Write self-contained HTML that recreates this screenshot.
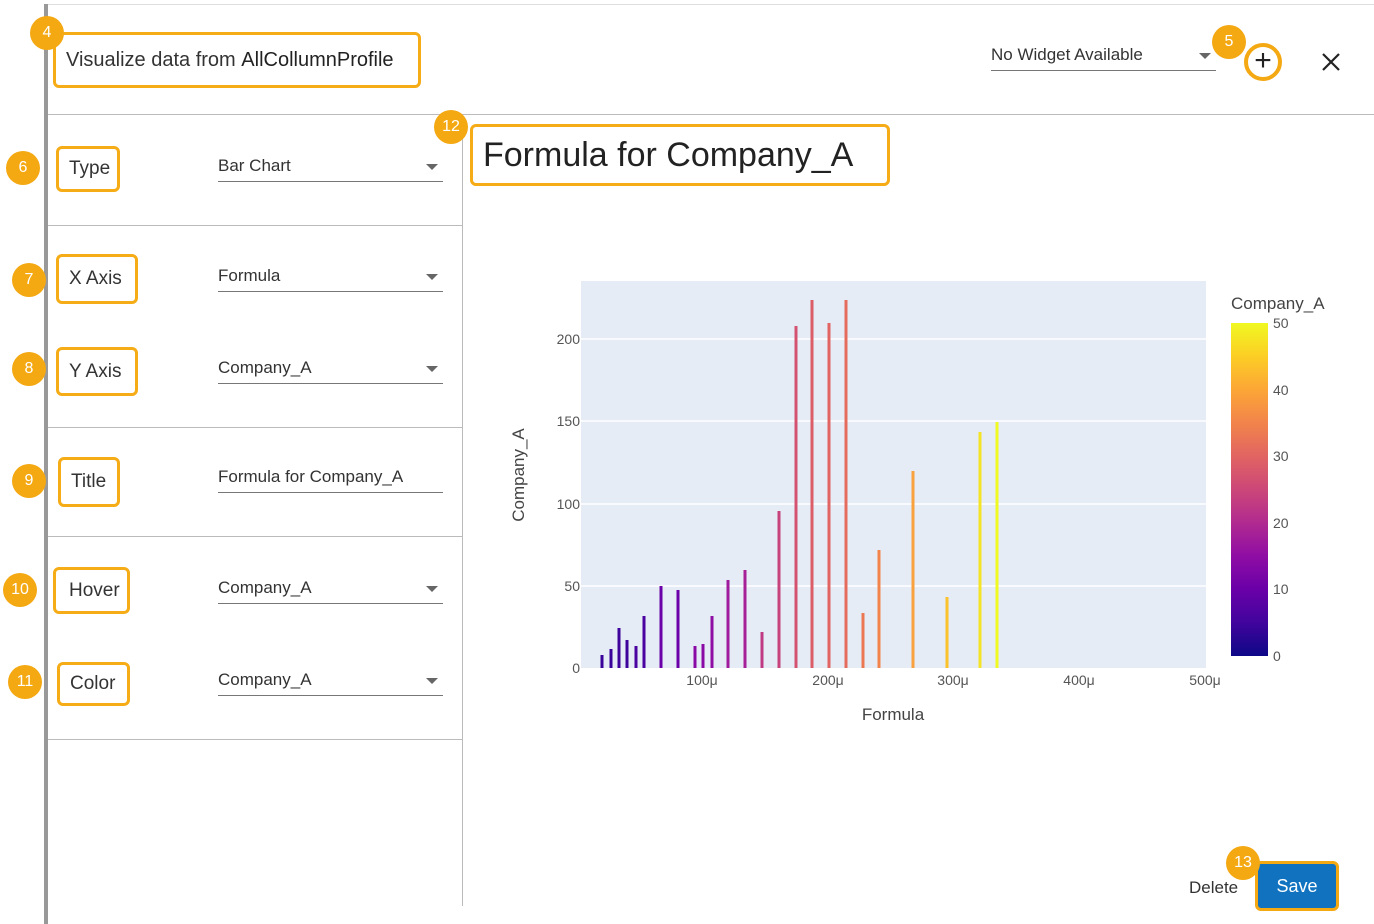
<!DOCTYPE html><html><head><style>
body{margin:0;width:1374px;height:924px;position:relative;background:#fff;font-family:"Liberation Sans",sans-serif;overflow:hidden;color:#333}
.a{position:absolute}
.box{position:absolute;border:3px solid #f5ac17;border-radius:6px;box-sizing:border-box;display:flex;align-items:center;padding-left:10px;font-size:19px;color:#333}
.bd{position:absolute;width:34px;height:34px;border-radius:50%;background:#f4a812;color:#fff;font-size:16px;display:flex;align-items:center;justify-content:center}
.dd{position:absolute;left:218px;width:225px;border-bottom:1px solid #777;font-size:17px;color:#333;height:25px}
.ar{position:absolute;right:5px;top:8px;width:0;height:0;border-left:6px solid transparent;border-right:6px solid transparent;border-top:6px solid #666}
.hl{position:absolute;height:1px;background:#bbb}
</style></head><body>
<div class="a" style="left:44px;top:4px;width:4px;height:920px;background:#999"></div>
<div class="hl" style="left:48px;top:4px;width:1326px;background:#ddd"></div>
<div class="hl" style="left:48px;top:114px;width:1326px"></div>
<div class="a" style="left:462px;top:114px;width:1px;height:792px;background:#bbb"></div>
<div class="hl" style="left:48px;top:225px;width:414px"></div>
<div class="hl" style="left:48px;top:427px;width:414px"></div>
<div class="hl" style="left:48px;top:536px;width:414px"></div>
<div class="hl" style="left:48px;top:739px;width:414px"></div>

<div class="box" style="left:53px;top:32px;width:368px;height:56px;font-size:20px">Visualize data from&nbsp;<span style="color:#222">AllCollumnProfile</span></div>
<div class="box" style="left:56px;top:146px;width:64px;height:46px">Type</div>
<div class="box" style="left:56px;top:254px;width:82px;height:50px">X Axis</div>
<div class="box" style="left:56px;top:347px;width:82px;height:49px">Y Axis</div>
<div class="box" style="left:58px;top:457px;width:62px;height:50px">Title</div>
<div class="box" style="left:53px;top:567px;width:77px;height:47px;padding-left:13px">Hover</div>
<div class="box" style="left:57px;top:662px;width:73px;height:44px">Color</div>
<div class="box" style="left:470px;top:124px;width:420px;height:62px;font-size:34px;color:#222">Formula for Company_A</div>

<div class="dd" style="top:156px">Bar Chart<div class="ar"></div></div>
<div class="dd" style="top:266px">Formula<div class="ar"></div></div>
<div class="dd" style="top:358px">Company_A<div class="ar"></div></div>
<div class="dd" style="top:467px">Formula for Company_A</div>
<div class="dd" style="top:578px">Company_A<div class="ar"></div></div>
<div class="dd" style="top:670px">Company_A<div class="ar"></div></div>
<div class="dd" style="left:991px;top:45px;width:225px">No Widget Available<div class="ar"></div></div>

<div class="a" style="left:1244px;top:43px;width:30px;height:30px;border:4px solid #f4a812;border-radius:50%;font-size:30px;line-height:28px;text-align:center;color:#222">+</div>
<svg class="a" style="left:1322px;top:53px" width="18" height="18"><path d="M1 1L17 17M17 1L1 17" stroke="#222" stroke-width="2.2"/></svg>

<div class="bd" style="left:30px;top:16px">4</div>
<div class="bd" style="left:6px;top:151px">6</div>
<div class="bd" style="left:12px;top:263px">7</div>
<div class="bd" style="left:12px;top:352px">8</div>
<div class="bd" style="left:12px;top:464px">9</div>
<div class="bd" style="left:3px;top:573px">10</div>
<div class="bd" style="left:8px;top:665px">11</div>
<div class="bd" style="left:434px;top:110px">12</div>
<div class="bd" style="left:1212px;top:25px">5</div>

<div class="a" style="left:1189px;top:878px;font-size:17px;color:#333">Delete</div>
<div class="a" style="left:1255px;top:861px;width:84px;height:50px;box-sizing:border-box;border:3px solid #f4a812;border-radius:6px;background:#1173c0;color:#fff;font-size:18px;display:flex;align-items:center;justify-content:center">Save</div>
<div class="bd" style="left:1226px;top:846px">13</div>

<svg class="a" style="left:0;top:0" width="1374" height="924">
<rect x="581" y="281" width="625" height="387" fill="#e5ecf6"/>
<g stroke="#fff" stroke-width="1.5"><line x1="581" x2="1206" y1="586" y2="586"/><line x1="581" x2="1206" y1="504" y2="504"/><line x1="581" x2="1206" y1="421" y2="421"/><line x1="581" x2="1206" y1="339" y2="339"/></g>
<g stroke-width="3">
<line x1="602" x2="602" y1="668" y2="655" stroke="#3a049a"/>
<line x1="611" x2="611" y1="668" y2="649" stroke="#3a049a"/>
<line x1="619" x2="619" y1="668" y2="628" stroke="#3f049c"/>
<line x1="627" x2="627" y1="668" y2="640" stroke="#3f049c"/>
<line x1="636" x2="636" y1="668" y2="646" stroke="#4a02a0"/>
<line x1="644" x2="644" y1="668" y2="616" stroke="#4a02a0"/>
<line x1="661" x2="661" y1="668" y2="586" stroke="#6a00a8"/>
<line x1="678" x2="678" y1="668" y2="590" stroke="#6a00a8"/>
<line x1="695" x2="695" y1="668" y2="646" stroke="#8a0aa5"/>
<line x1="703" x2="703" y1="668" y2="644" stroke="#8a0aa5"/>
<line x1="712" x2="712" y1="668" y2="616" stroke="#8f0da4"/>
<line x1="728" x2="728" y1="668" y2="580" stroke="#a01c9c"/>
<line x1="745" x2="745" y1="668" y2="570" stroke="#a62098"/>
<line x1="762" x2="762" y1="668" y2="632" stroke="#c03a83"/>
<line x1="779" x2="779" y1="668" y2="511" stroke="#c8437b"/>
<line x1="796" x2="796" y1="668" y2="326" stroke="#d45270"/>
<line x1="812" x2="812" y1="668" y2="300" stroke="#dc5c68"/>
<line x1="829" x2="829" y1="668" y2="323" stroke="#e16462"/>
<line x1="846" x2="846" y1="668" y2="300" stroke="#e56b5d"/>
<line x1="863" x2="863" y1="668" y2="613" stroke="#ec7853"/>
<line x1="879" x2="879" y1="668" y2="550" stroke="#f2844b"/>
<line x1="913" x2="913" y1="668" y2="471" stroke="#f9a03f"/>
<line x1="947" x2="947" y1="668" y2="597" stroke="#fcc22b"/>
<line x1="980" x2="980" y1="668" y2="432" stroke="#f5e426"/>
<line x1="997" x2="997" y1="668" y2="422" stroke="#f0f921"/>
</g>
<g font-family="Liberation Sans" font-size="14" fill="#555" text-anchor="end">
<text x="580" y="673">0</text><text x="580" y="591">50</text><text x="580" y="509">100</text><text x="580" y="426">150</text><text x="580" y="344">200</text></g>
<g font-family="Liberation Sans" font-size="14" fill="#555" text-anchor="middle">
<text x="702" y="685">100μ</text><text x="828" y="685">200μ</text><text x="953" y="685">300μ</text><text x="1079" y="685">400μ</text><text x="1205" y="685">500μ</text></g>
<text x="893" y="720" font-family="Liberation Sans" font-size="17" fill="#444" text-anchor="middle">Formula</text>
<text x="524" y="475" font-family="Liberation Sans" font-size="17" fill="#444" text-anchor="middle" transform="rotate(-90 524 475)">Company_A</text>
<defs><linearGradient id="pl" x1="0" y1="1" x2="0" y2="0">
<stop offset="0" stop-color="#0d0887"/><stop offset=".1" stop-color="#41049d"/><stop offset=".2" stop-color="#6a00a8"/><stop offset=".3" stop-color="#8f0da4"/><stop offset=".4" stop-color="#b12a90"/><stop offset=".5" stop-color="#cc4778"/><stop offset=".6" stop-color="#e16462"/><stop offset=".7" stop-color="#f2844b"/><stop offset=".8" stop-color="#fca636"/><stop offset=".9" stop-color="#fcce25"/><stop offset="1" stop-color="#f0f921"/></linearGradient></defs>
<rect x="1231" y="323" width="37" height="333" fill="url(#pl)"/>
<text x="1231" y="309" font-family="Liberation Sans" font-size="17" fill="#444">Company_A</text>
<g font-family="Liberation Sans" font-size="14" fill="#555">
<text x="1273" y="328">50</text><text x="1273" y="395">40</text><text x="1273" y="461">30</text><text x="1273" y="528">20</text><text x="1273" y="594">10</text><text x="1273" y="661">0</text></g>
</svg>
</body></html>
